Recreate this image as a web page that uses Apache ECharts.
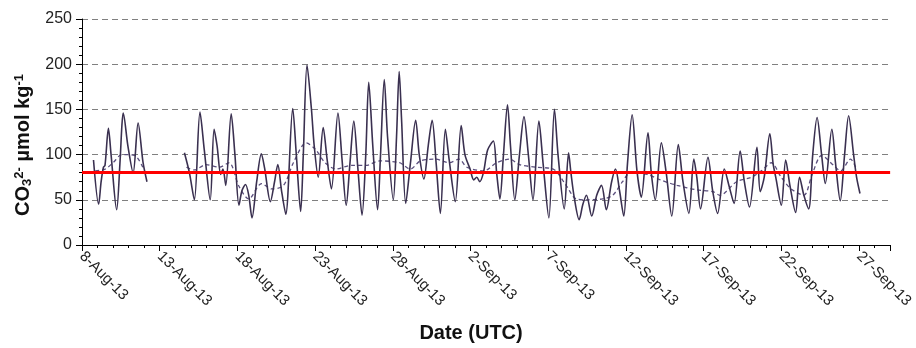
<!DOCTYPE html>
<html><head><meta charset="utf-8">
<script src="https://cdn.jsdelivr.net/npm/echarts@6/dist/echarts.min.js"></script>
<style>html,body{margin:0;padding:0;background:#fff}#c{width:916px;height:348px}</style>
</head><body><div id="c"></div>
<script>
// Days since 8-Aug-2013 00:00 UTC, and CO3 2- (µmol kg-1)
const obsDays = [0.74,1.07,1.23,1.38,1.48,1.70,1.87,2.23,2.44,2.57,2.65,2.95,3.29,3.61,3.93,4.18,
  5.40,
  6.59,6.91,7.23,7.59,7.87,8.25,8.50,8.69,8.93,9.07,9.25,9.60,9.84,10.10,10.29,10.52,10.73,10.94,11.24,11.54,11.75,12.12,12.39,12.60,12.84,13.11,13.56,13.79,14.07,14.24,14.48,14.76,14.94,15.20,15.52,15.77,16.05,16.47,16.73,17.00,17.24,17.49,17.75,18.02,18.26,18.45,18.71,19.02,19.21,19.45,19.66,20.03,20.24,20.41,20.56,20.83,21.13,21.47,21.70,22.00,22.28,22.53,22.79,23.06,23.38,23.62,24.02,24.40,24.64,24.97,25.21,25.40,25.59,25.83,26.10,26.47,26.68,26.89,27.12,27.38,27.57,27.85,28.15,28.44,28.72,29.02,29.40,29.67,30.04,30.40,30.63,31.03,31.31,31.46,31.67,31.99,32.23,32.46,32.80,33.12,33.43,33.74,34.08,34.33,34.59,34.86,35.10,35.40,35.71,35.99,36.42,36.63,36.89,37.28,37.59,37.95,38.37,38.67,39.05,39.37,39.56,39.80,40.28,40.58,40.90,41.33,41.64,41.96,42.35,42.62,42.95,43.43,43.64,43.90,44.26,44.47,44.64,45.00,45.28,45.56,45.92,46.17,46.45,46.76,47.02,47.30,47.59,47.83,48.25,48.49,48.79,49.07,49.33,49.65,49.84,50.06];
const obsVals = [94,45,70,86,88,129,100,39,90,133,146,110,80,135,91,70,
  null,
  102,80,50,147,105,50,128,110,78,84,66,145,100,44,60,67,55,30,70,101,85,48,70,89,60,34,151,100,37,100,199,151,110,75,130,95,62,146,95,44,90,137,85,33,100,180,110,39,100,183,120,50,120,192,140,46,90,138,100,73,110,138,90,35,128,95,48,132,100,84,72,75,70,80,105,115,80,51,100,155,110,50,100,142,100,50,137,90,30,150,100,40,102,80,53,28,45,55,32,55,66,39,70,84,60,32,90,144,82,53,124,80,50,113,80,32,111,70,35,95,75,40,97,60,35,84,65,46,104,70,42,108,59,75,123,90,75,44,94,65,36,75,55,40,100,141,100,68,128,90,49,100,143,100,75,57];
// 24 h running mean (dashed)
const avgDays = [0.85,1.49,2.00,2.57,3.40,3.91,
  5.40,
  6.72,7.23,7.99,8.82,9.46,10.10,10.73,11.56,12.21,12.97,13.60,14.43,15.01,15.64,16.35,17.30,18.26,19.15,20.43,21.13,21.77,22.72,23.62,24.26,24.77,25.85,26.68,27.51,28.15,29.23,30.32,31.15,31.79,32.42,33.51,34.15,34.78,35.29,36.38,37.21,38.29,39.57,40.59,41.04,42.12,43.08,43.71,44.35,44.99,45.63,46.45,46.96,47.60,48.37,48.81,49.45,49.83];
const avgVals = [82,84,91,100,99,86,
  null,
  86,83,89,86,91,65,51,68,62,66,91,113,106,91,84,88,88,93,91,84,93,95,91,95,86,82,91,95,89,86,84,66,51,50,51,55,70,80,78,72,66,61,59,55,70,75,82,91,75,62,55,77,99,88,82,95,84];
const threshold = 80;
const yTicks = {min: 0, max: 250, step: 50};
const xRange = {min: 0, max: 52, step: 5};
const months = ['Jan','Feb','Mar','Apr','May','Jun','Jul','Aug','Sep','Oct','Nov','Dec'];
const base = Date.UTC(2013, 7, 8);

function fmtDay(v){
  const d = new Date(base + v * 86400000);
  return d.getUTCDate() + '-' + months[d.getUTCMonth()] + '-' + String(d.getUTCFullYear()).slice(2);
}
const obs = obsDays.map((d,i)=>[d, obsVals[i] === null ? '-' : obsVals[i]]);
const avg = avgDays.map((d,i)=>[d, avgVals[i] === null ? '-' : avgVals[i]]);

const chart = echarts.init(document.getElementById('c'), null, {renderer:'canvas'});
chart.setOption({
  animation: false,
  backgroundColor: '#fff',
  grid: {left: 82, right: 19, top: 19, bottom: 99, containLabel: false},
  xAxis: {
    type: 'value', min: xRange.min, max: xRange.max, interval: xRange.step,
    name: 'Date (UTC)', nameLocation: 'middle', nameGap: 78,
    nameTextStyle: {fontFamily: 'Liberation Sans, Arial', fontSize: 20, fontWeight: 'bold', color: '#111', padding: [0, 30, 0, 0]},
    axisLine: {lineStyle: {color: '#000', width: 1}},
    axisTick: {show: true, length: 6, lineStyle: {color: '#000'}},
    minorTick: {show: true, splitNumber: 5, length: 3, lineStyle: {color: '#000'}},
    splitLine: {show: false},
    axisLabel: {rotate: -45, margin: 9, fontFamily: 'Liberation Sans, Arial', fontSize: 15, color: '#222',
      showMaxLabel: false, formatter: fmtDay}
  },
  yAxis: {
    type: 'value', min: yTicks.min, max: yTicks.max, interval: yTicks.step,
    name: '{b|CO}{sub|3}{sup|2-}{b| µmol kg}{sup|-1}', nameLocation: 'middle', nameGap: 46, nameRotate: 90,
    nameTextStyle: {
      color: '#111', padding: [0, 26, 0, 0],
      rich: {
        b: {fontFamily: 'Liberation Sans, Arial', fontSize: 20, fontWeight: 'bold', color: '#111'},
        sub: {fontFamily: 'Liberation Sans, Arial', fontSize: 13, fontWeight: 'bold', color: '#111', verticalAlign: 'bottom', padding: [8, 0, 0, 0]},
        sup: {fontFamily: 'Liberation Sans, Arial', fontSize: 13, fontWeight: 'bold', color: '#111', verticalAlign: 'top', padding: [0, 0, 8, 0]}
      }
    },
    axisLine: {show: true, lineStyle: {color: '#000', width: 1}},
    axisTick: {show: true, length: 6, lineStyle: {color: '#000'}},
    minorTick: {show: true, splitNumber: 5, length: 3, lineStyle: {color: '#000'}},
    splitLine: {show: true, lineStyle: {color: '#808080', width: 1, type: [6, 4]}},
    axisLabel: {margin: 10, fontFamily: 'Liberation Sans, Arial', fontSize: 16, color: '#222'}
  },
  series: [
    {
      name: 'avg', type: 'line', data: avg, showSymbol: false, symbol: 'none', connectNulls: false,
      smooth: 0.3,
      lineStyle: {color: '#5b4f7e', width: 1.3, type: [4, 3]}, z: 2
    },
    {
      name: 'obs', type: 'line', data: obs, showSymbol: false, symbol: 'none', connectNulls: false,
      smooth: 0.3,
      lineStyle: {color: '#3a3050', width: 1.6}, z: 3,
      markLine: {silent: true, symbol: ['none','none'], label: {show: false},
        lineStyle: {color: '#ff0000', width: 3, type: 'solid'},
        data: [{yAxis: threshold}]}
    }
  ]
});
</script></body></html>
